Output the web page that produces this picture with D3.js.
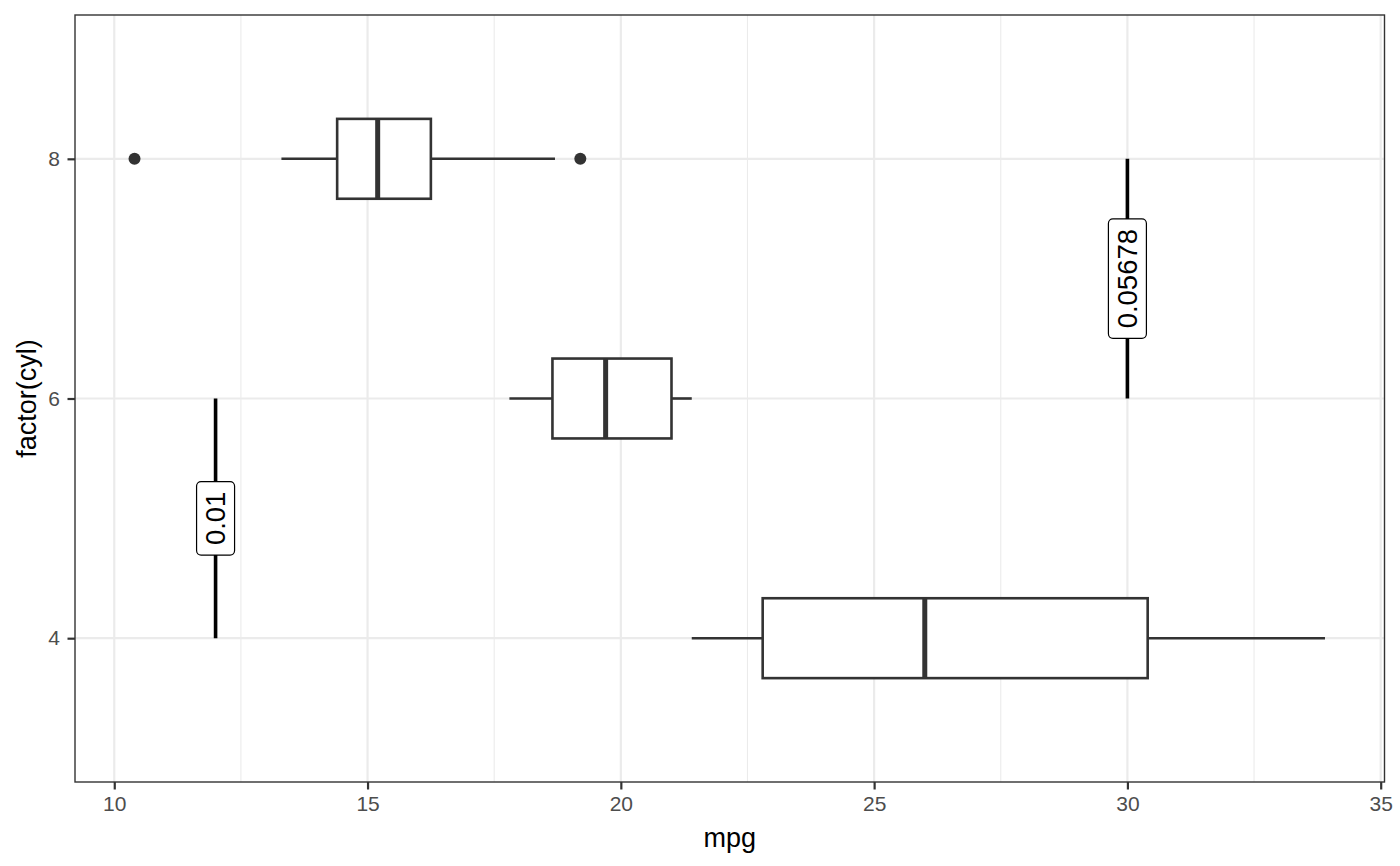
<!DOCTYPE html>
<html>
<head>
<meta charset="utf-8">
<script src="https://cdn.jsdelivr.net/npm/d3@7"></script>
<style>
  body { margin: 0; background: #fff; }
  text { font-family: "Liberation Sans", Arial, sans-serif; }
</style>
</head>
<body>
<svg></svg>
<script>
// boxplot summaries of mpg per cyl
const cylLevels = [4, 6, 8];
const lowerWhisker = [21.4, 17.8, 13.3];
const q1 = [22.8, 18.65, 14.4];
const median = [26.0, 19.7, 15.2];
const q3 = [30.4, 21.0, 16.25];
const upperWhisker = [33.9, 21.4, 18.7];

// outlying points
const outlierCyl = [8, 8];
const outlierMpg = [10.4, 19.2];

// labelled segments
const segX = [12, 30];
const segYStart = [4, 6];
const segYEnd = [6, 8];
const segLabels = ["0.01", "0.05678"];

// axes
const xTicks = [10, 15, 20, 25, 30, 35];
const xMinorTicks = [12.5, 17.5, 22.5, 27.5, 32.5];
const yTicks = [4, 6, 8];
const xAxisLabel = "mpg";
const yAxisLabel = "factor(cyl)";

const width = 1400;
const height = 866;
const svg = d3.select("svg").attr("width", width).attr("height", height);

const margin = { left: 75, right: 15.5, top: 15, bottom: 84 };
const graphWidth = width - margin.left - margin.right;
const graphHeight = height - margin.top - margin.bottom;

const xScale = d3.scaleLinear().domain([9.225, 35.075]).range([0, graphWidth]);
const yScale = d3.scaleLinear().domain([2.8, 9.2]).range([graphHeight, 0]);
const boxHalf = 1 / 3; // half box height in y units

const g = svg.append("g").attr("transform", `translate(${margin.left}, ${margin.top})`);

// grid lines
g.selectAll(".x-minor").data(xMinorTicks).join("line")
  .attr("x1", d => xScale(d)).attr("x2", d => xScale(d))
  .attr("y1", 0).attr("y2", graphHeight)
  .attr("stroke", "#ebebeb").attr("stroke-width", 1.1);
g.selectAll(".x-major").data(xTicks).join("line")
  .attr("x1", d => xScale(d)).attr("x2", d => xScale(d))
  .attr("y1", 0).attr("y2", graphHeight)
  .attr("stroke", "#ebebeb").attr("stroke-width", 2.2);
g.selectAll(".y-major").data(yTicks).join("line")
  .attr("x1", 0).attr("x2", graphWidth)
  .attr("y1", d => yScale(d)).attr("y2", d => yScale(d))
  .attr("stroke", "#ebebeb").attr("stroke-width", 2.2);

// boxplots
const boxes = cylLevels.map((c, i) => ({
  cyl: c, lo: lowerWhisker[i], q1: q1[i], med: median[i], q3: q3[i], hi: upperWhisker[i]
}));

const bg = g.selectAll(".box").data(boxes).join("g");
bg.append("line")
  .attr("x1", d => xScale(d.lo)).attr("x2", d => xScale(d.q1))
  .attr("y1", d => yScale(d.cyl)).attr("y2", d => yScale(d.cyl))
  .attr("stroke", "#333").attr("stroke-width", 2.6);
bg.append("line")
  .attr("x1", d => xScale(d.q3)).attr("x2", d => xScale(d.hi))
  .attr("y1", d => yScale(d.cyl)).attr("y2", d => yScale(d.cyl))
  .attr("stroke", "#333").attr("stroke-width", 2.6);
bg.append("rect")
  .attr("x", d => xScale(d.q1))
  .attr("width", d => xScale(d.q3) - xScale(d.q1))
  .attr("y", d => yScale(d.cyl + boxHalf))
  .attr("height", d => yScale(d.cyl - boxHalf) - yScale(d.cyl + boxHalf))
  .attr("fill", "#fff").attr("stroke", "#333").attr("stroke-width", 2.6);
bg.append("line")
  .attr("x1", d => xScale(d.med)).attr("x2", d => xScale(d.med))
  .attr("y1", d => yScale(d.cyl + boxHalf)).attr("y2", d => yScale(d.cyl - boxHalf))
  .attr("stroke", "#333").attr("stroke-width", 5);

g.selectAll(".outlier").data(outlierMpg).join("circle")
  .attr("cx", d => xScale(d))
  .attr("cy", (d, i) => yScale(outlierCyl[i]))
  .attr("r", 6).attr("fill", "#333");

// labelled segments
const segs = segX.map((x, i) => ({ x, y0: segYStart[i], y1: segYEnd[i], label: segLabels[i] }));
const sg = g.selectAll(".seg").data(segs).join("g");
sg.append("line")
  .attr("x1", d => xScale(d.x)).attr("x2", d => xScale(d.x))
  .attr("y1", d => yScale(d.y0)).attr("y2", d => yScale(d.y1))
  .attr("stroke", "#000").attr("stroke-width", 3.6);
sg.each(function (d) {
  const cx = xScale(d.x);
  const cy = yScale((d.y0 + d.y1) / 2);
  const lg = d3.select(this).append("g").attr("transform", `translate(${cx}, ${cy}) rotate(-90)`);
  const rect = lg.append("rect");
  const t = lg.append("text")
    .attr("text-anchor", "middle").attr("dy", "0.36em")
    .style("font-size", "27.5px").attr("fill", "#000").text(d.label);
  const len = t.node().getComputedTextLength();
  const padX = 10, h = 38;
  rect.attr("x", -len / 2 - padX).attr("width", len + 2 * padX)
    .attr("y", -h / 2).attr("height", h)
    .attr("rx", 4.5).attr("ry", 4.5)
    .attr("fill", "#fff").attr("stroke", "#000").attr("stroke-width", 1.2);
});

// panel border
g.append("rect")
  .attr("x", 0).attr("y", 0).attr("width", graphWidth).attr("height", graphHeight)
  .attr("fill", "none").attr("stroke", "#333").attr("stroke-width", 1.4);

// x axis
const xAxis = d3.axisBottom(xScale).tickValues(xTicks).tickFormat(d3.format("d"))
  .tickSize(7.5).tickPadding(7);
const xAxisG = g.append("g").attr("transform", `translate(0, ${graphHeight})`).call(xAxis);
xAxisG.select(".domain").remove();
xAxisG.selectAll(".tick line").attr("stroke", "#333").attr("stroke-width", 2.2);
xAxisG.selectAll(".tick text").style("font-size", "21px").attr("fill", "#4d4d4d")
  .style("font-family", "Liberation Sans, Arial, sans-serif");

// y axis
const yAxis = d3.axisLeft(yScale).tickValues(yTicks).tickFormat(d3.format("d"))
  .tickSize(7.5).tickPadding(7.5);
const yAxisG = g.append("g").call(yAxis);
yAxisG.select(".domain").remove();
yAxisG.selectAll(".tick line").attr("stroke", "#333").attr("stroke-width", 2.2);
yAxisG.selectAll(".tick text").style("font-size", "21px").attr("fill", "#4d4d4d")
  .style("font-family", "Liberation Sans, Arial, sans-serif");

// axis titles
svg.append("text")
  .attr("x", margin.left + graphWidth / 2).attr("y", 847)
  .attr("text-anchor", "middle").style("font-size", "27px").attr("fill", "#000")
  .text(xAxisLabel);
svg.append("text")
  .attr("transform", `translate(36, ${margin.top + graphHeight / 2}) rotate(-90)`)
  .attr("text-anchor", "middle").style("font-size", "27px").attr("fill", "#000")
  .text(yAxisLabel);
</script>
</body>
</html>
